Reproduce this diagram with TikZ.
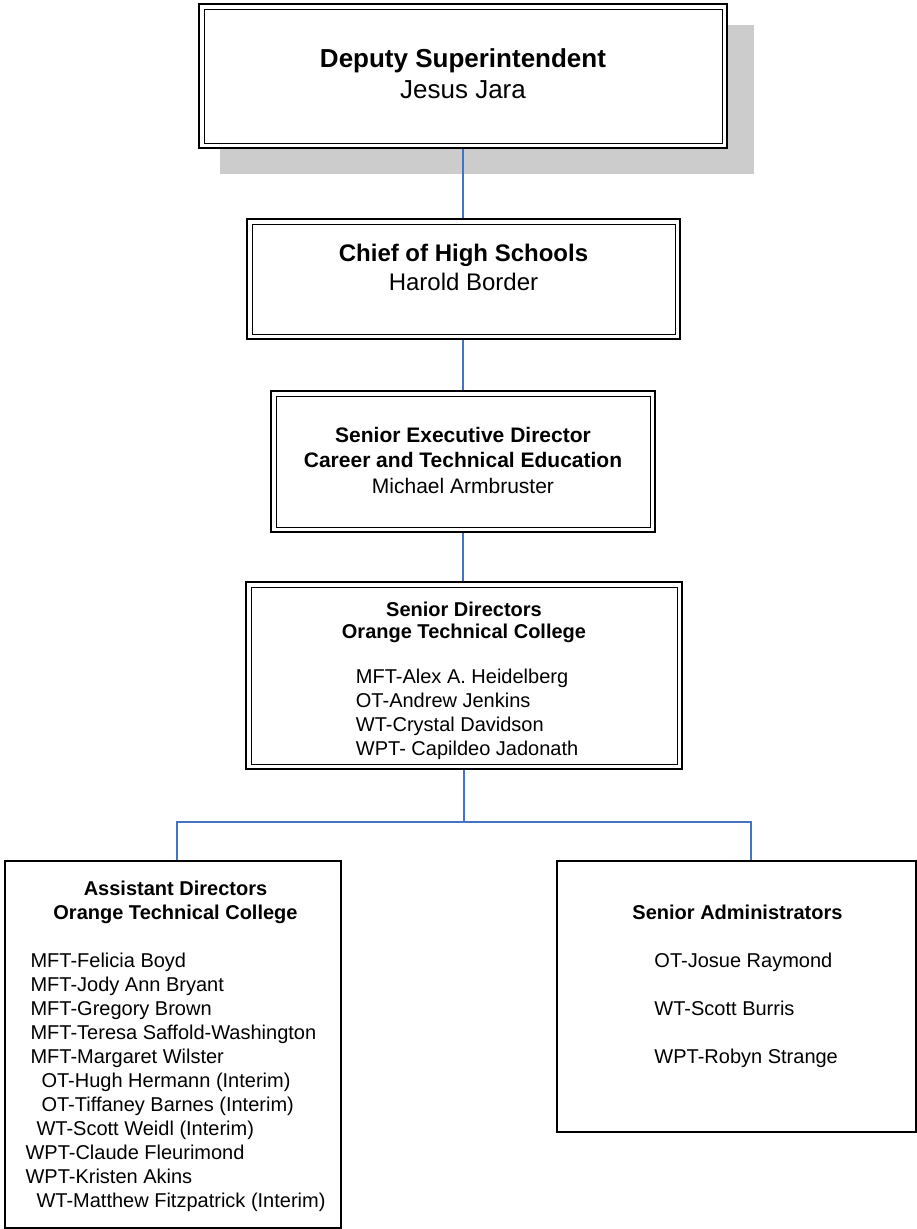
\documentclass[tikz,border=0pt]{standalone}
\usepackage{fontspec}
\setmainfont{Liberation Sans}
\usetikzlibrary{calc,backgrounds}
\definecolor{linkblue}{RGB}{68,114,196}
\definecolor{shadowgray}{RGB}{204,204,204}
\tikzstyle{db} = [rectangle,draw=black,fill=white,line width=2pt,path picture={\draw[line width=1pt] ([shift={(5pt,-5pt)}]path picture bounding box.north west) rectangle ([shift={(-5pt,5pt)}]path picture bounding box.south east);}]
\tikzstyle{sb} = [rectangle,draw=black,line width=1.6pt]
\tikzstyle{tx} = [inner sep=0pt,anchor=base]
\tikzstyle{ln} = [draw=linkblue,line width=1.5pt]

\begin{document}
\begin{tikzpicture}[x=1pt,y=1pt]
  \useasboundingbox (0,0) rectangle (917,-1229);
  \node[db,minimum width=528pt,minimum height=144pt](ds) at (463,-76) {};
  \node[db,minimum width=433pt,minimum height=120pt](ch) at ($(ds)+(0.5,-203)$) {};
  \node[db,minimum width=384pt,minimum height=141pt](se) at ($(ds)+(0,-385.5)$) {};
  \node[db,minimum width=436pt,minimum height=187pt](sd) at ($(ds)+(1,-599.5)$) {};
  \node[sb,minimum width=336pt,minimum height=367pt](ad) at ($(sd)+(-291,-369)$) {};
  \node[sb,minimum width=359pt,minimum height=271pt](sa) at ($(sd)+(272.5,-321)$) {};
  \begin{scope}[on background layer]
    \fill[shadowgray] ($(ds.south west)+(22,-25)$) rectangle ($(ds.north east)+(26,-22)$);
  \end{scope}
  \node[tx,font={\fontsize{26}{31.5}\selectfont}](dst) at ($(ds.north)+(0,-64.3)$) {\begin{tabular}[t]{@{}c@{}}\bfseries Deputy Superintendent\\Jesus Jara\end{tabular}};
  \node[tx,font={\fontsize{24}{29}\selectfont}](cht) at ($(ch.north)+(0,-43.5)$) {\begin{tabular}[t]{@{}c@{}}\bfseries Chief of High Schools\\Harold Border\end{tabular}};
  \node[tx,font={\fontsize{21}{25.5}\selectfont}](set) at ($(se.north)+(0,-52)$) {\begin{tabular}[t]{@{}c@{}}\bfseries Senior Executive Director\\\bfseries Career and Technical Education\\Michael Armbruster\end{tabular}};
  \node[tx,font={\fontsize{20}{24}\selectfont}](sdt) at ($(sd.north)+(0,-35)$) {\begin{tabular}[t]{@{}l@{}}
    \multicolumn{1}{@{}c@{}}{\bfseries Senior Directors}\\[-2pt]
    \multicolumn{1}{@{}c@{}}{\bfseries Orange Technical College}\\[21pt]
    \hspace*{14pt}MFT-Alex A. Heidelberg\\
    \hspace*{14pt}OT-Andrew Jenkins\\
    \hspace*{14pt}WT-Crystal Davidson\\
    \hspace*{14pt}WPT- Capildeo Jadonath
  \end{tabular}};
  \node[tx,font={\fontsize{20}{24}\selectfont}](adt) at ($(ad.north)+(2.5,-35)$) {\begin{tabular}[t]{@{}l@{}}
    \multicolumn{1}{@{}c@{}}{\bfseries Assistant Directors}\\
    \multicolumn{1}{@{}c@{}}{\bfseries Orange Technical College}\\[24pt]
    \hspace*{5pt}MFT-Felicia Boyd\\
    \hspace*{5pt}MFT-Jody Ann Bryant\\
    \hspace*{5pt}MFT-Gregory Brown\\
    \hspace*{5pt}MFT-Teresa Saffold-Washington\\
    \hspace*{5pt}MFT-Margaret Wilster\\
    \hspace*{16pt}OT-Hugh Hermann (Interim)\\
    \hspace*{16pt}OT-Tiffaney Barnes (Interim)\\
    \hspace*{11pt}WT-Scott Weidl (Interim)\\
    WPT-Claude Fleurimond\\
    WPT-Kristen Akins\\
    \hspace*{11pt}WT-Matthew Fitzpatrick (Interim)
  \end{tabular}};
  \node[tx,font={\fontsize{20}{24}\selectfont}](sat) at ($(sa.north)+(1,-59)$) {\begin{tabular}[t]{@{}l@{}}
    \multicolumn{1}{@{}c@{}}{\bfseries Senior Administrators}\\[24pt]
    \hspace*{22pt}OT-Josue Raymond\\[24pt]
    \hspace*{22pt}WT-Scott Burris\\[24pt]
    \hspace*{22pt}WPT-Robyn Strange
  \end{tabular}};
  \draw[ln] (ds.south) -- (ds.south |- ch.north);
  \draw[ln] (ds.south |- ch.south) -- (ds.south |- se.north);
  \draw[ln] (se.south) -- (se.south |- sd.north);
  \draw[ln] (sd.south) -- ++(0,-52) coordinate (jn);
  \draw[ln] ([xshift=4pt]ad.north) |- (jn) -| ([xshift=14.5pt]sa.north);
\end{tikzpicture}
\end{document}
